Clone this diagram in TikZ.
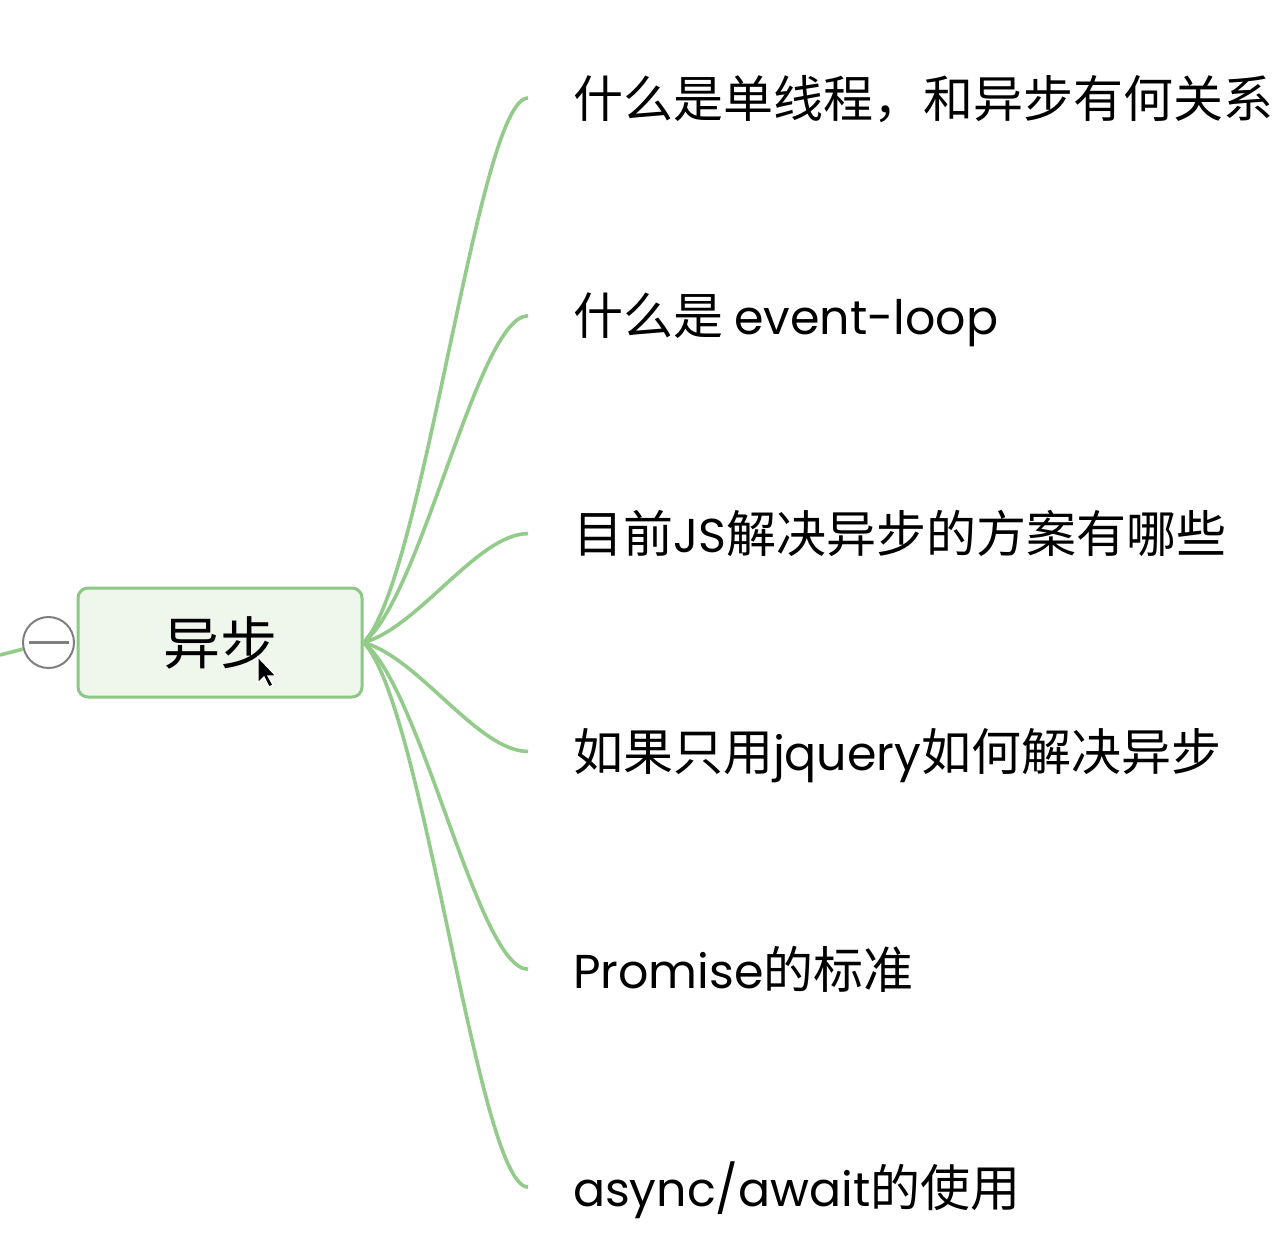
\documentclass[tikz,border=0pt]{standalone}
\usepackage{fontspec}
\usetikzlibrary{positioning}
\newfontfamily\cjk{Noto Sans CJK SC}
\newfontfamily\lat[Scale=0.95]{Poppins}
\newcommand{\entext}[1]{{\lat #1}}
\definecolor{linegreen}{HTML}{92CB8A}
\definecolor{topicfill}{HTML}{EFF6EC}
\definecolor{topicdraw}{HTML}{8CC784}
\definecolor{foldgray}{HTML}{7F7F7F}
\tikzset{
    branch/.style={draw=linegreen, line width=1.8pt},
    topic/.style={draw=topicdraw, fill=topicfill, line width=1.5pt, rounded corners=5pt, minimum width=142pt, minimum height=54.5pt, font=\cjk\fontsize{28.5}{34}\selectfont},
    leaf/.style={inner xsep=22.5pt, inner ysep=0pt, outer sep=0pt, text height=22pt, text depth=3pt, font=\cjk\fontsize{25}{30}\selectfont},
    fold/.style={draw=foldgray, fill=white, circle, line width=1pt, minimum size=25.5pt, inner sep=0pt}
}

\begin{document}
\begin{tikzpicture}[x=0.5pt, y=-0.5pt, node distance=108.9pt]
            \useasboundingbox (0,0) rectangle (1278,1238);
            \fill[white] (0,0) rectangle (1278,1238);

            \node[topic] (root) at (220,642.5) {异步};
            \node[fold] (fold) at (48.5,642.5) {};
            \coordinate (parent) at (0,655);

            \node[leaf, anchor=west] (q1) at (528,98) {什么是单线程，和异步有何关系};
            \node[leaf, below=of q1.west, anchor=west] (q2) {什么是 \entext{event-loop}};
            \node[leaf, below=of q2.west, anchor=west] (q3) {目前\entext{JS}解决异步的方案有哪些};
            \node[leaf, below=of q3.west, anchor=west] (q4) {如果只用\entext{jquery}如何解决异步};
            \node[leaf, below=of q4.west, anchor=west] (q5) {\entext{Promise}的标准};
            \node[leaf, below=of q5.west, anchor=west] (q6) {\entext{async/await}的使用};

            \draw[branch] (parent) -- (fold);
            \draw[foldgray, line width=1.5pt] ([xshift=-10pt]fold.center) -- ([xshift=10pt]fold.center);

            \draw[branch] (root.east) .. controls +(60,-60) and +(-50,0) .. (q1.west);
            \draw[branch] (root.east) .. controls +(58,-45) and +(-50,0) .. (q2.west);
            \draw[branch] (root.east) .. controls +(55,-15) and +(-50,0) .. (q3.west);
            \draw[branch] (root.east) .. controls +(55,15) and +(-50,0) .. (q4.west);
            \draw[branch] (root.east) .. controls +(58,45) and +(-50,0) .. (q5.west);
            \draw[branch] (root.east) .. controls +(60,60) and +(-50,0) .. (q6.west);

            % mouse pointer over the topic
            \filldraw[fill=black, draw=white, line width=0.6pt, shift={(258,657)}]
                (0,0) -- (0,26) -- (6,20) -- (11,30) -- (15,28) -- (10,19) -- (18,19) -- cycle;
        \end{tikzpicture}
\end{document}
